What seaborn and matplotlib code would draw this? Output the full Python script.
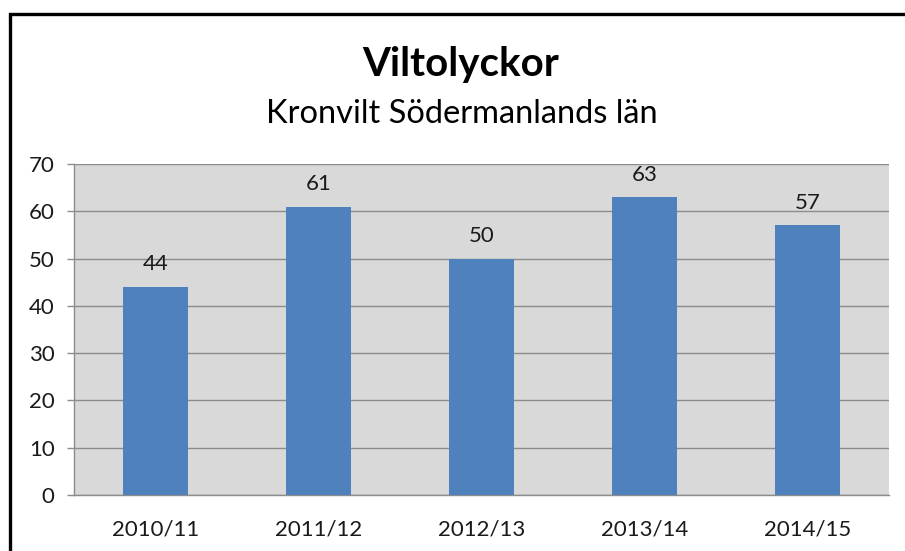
import pandas as pd
import matplotlib
matplotlib.use("Agg")
import matplotlib.pyplot as plt
import seaborn as sns
from matplotlib.lines import Line2D

# data
seasons = ["2010/11", "2011/12", "2012/13", "2013/14", "2014/15"]
accidents = [44, 61, 50, 63, 57]

df = pd.DataFrame({"season": seasons, "count": accidents})

sns.set_style("white")
plt.rcParams["font.family"] = ["Lato", "DejaVu Sans"]

fig = plt.figure(figsize=(9.05, 5.51), dpi=100)
ax = fig.add_axes([74 / 905, 1 - 495 / 551, (889 - 74) / 905, (495 - 164) / 551])

sns.barplot(df, x="season", y="count", color="#4F81BD", saturation=1,
            width=0.4, linewidth=0, ax=ax, zorder=3)

for c in ax.containers:
    ax.bar_label(c, padding=9, fontsize=16, color="#1a1a1a")

ax.set_facecolor("#D9D9D9")
ax.set_ylim(0, 70)
ax.set_xlim(-0.5, len(seasons) - 0.5)
ax.set_yticks(range(0, 71, 10))
ax.grid(axis="y", color="#8C8C8C", linewidth=1, zorder=0)
ax.set_axisbelow(True)

# category ticks sit between the bars
ax.set_xticks([i - 0.5 for i in range(len(seasons) + 1)], minor=True)
ax.tick_params(axis="x", which="major", length=0, pad=18, labelsize=16, labelcolor="#1a1a1a")
ax.tick_params(axis="x", which="minor", length=6, color="#8C8C8C", width=1, direction="out")
ax.tick_params(axis="y", length=5, color="#8C8C8C", width=1, pad=9, labelsize=16,
               labelcolor="#1a1a1a", left=True)

for s in ["top", "right"]:
    ax.spines[s].set_visible(False)
for s in ["left", "bottom"]:
    ax.spines[s].set_color("#8C8C8C")
    ax.spines[s].set_linewidth(1)

ax.set_xlabel("")
ax.set_ylabel("")

fig.text(461 / 905, 1 - 76 / 551, "Viltolyckor", ha="center", va="baseline",
         fontsize=29, fontweight="bold", color="black")
fig.text(462 / 905, 1 - 123 / 551, "Kronvilt Södermanlands län", ha="center",
         va="baseline", fontsize=23.5, color="black")

# outer chart frame (left and top edges visible)
bx = 9.5 / 905
by = 1 - 13.5 / 551
fig.add_artist(Line2D([bx, bx, 1.0], [0.0, by, by], transform=fig.transFigure,
                      color="black", linewidth=2.4, solid_joinstyle="miter"))

fig.savefig("out.png", dpi=100)
